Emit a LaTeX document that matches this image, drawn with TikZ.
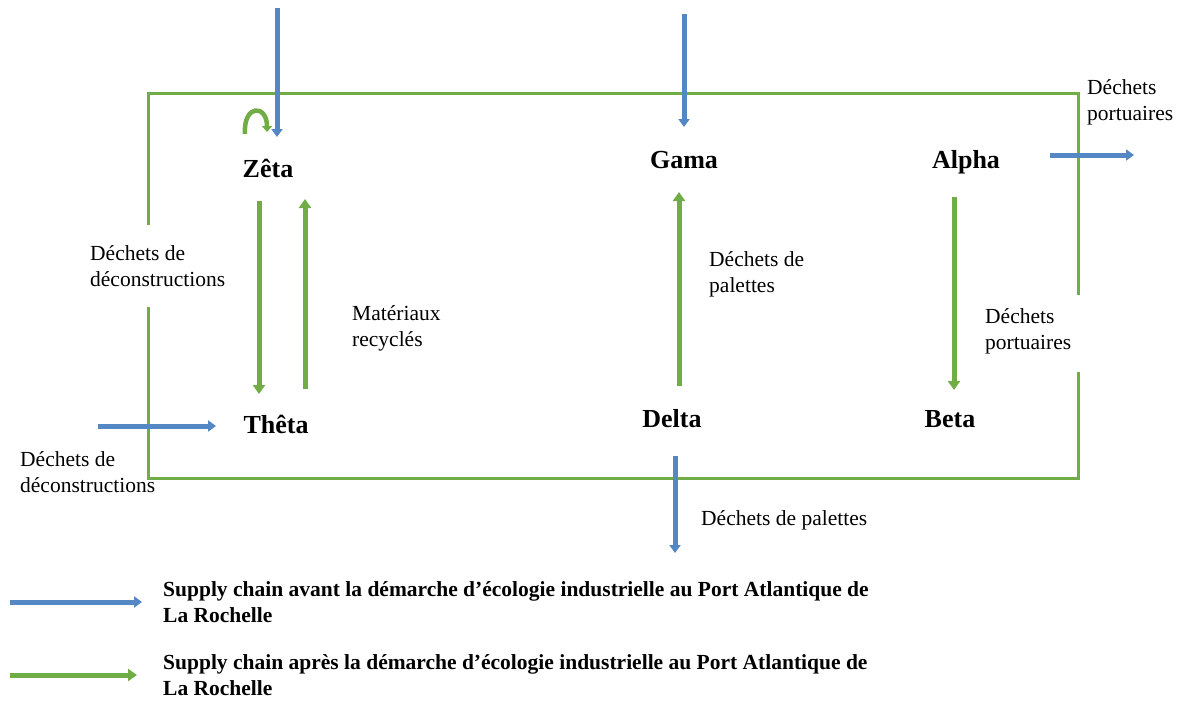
\documentclass[tikz,border=0pt]{standalone}
\usepackage{fontspec}
\setmainfont{Liberation Serif}
\usetikzlibrary{arrows.meta}
\definecolor{fblue}{RGB}{84,136,196}
\definecolor{fgreen}{RGB}{112,173,71}
\begin{document}
\begin{tikzpicture}[x=1pt,y=-1pt,
  lbl/.style={align=left,inner sep=0pt,anchor=west,font=\fontsize{21.5}{26}\selectfont},
  ent/.style={inner sep=0pt,font=\fontsize{26}{30}\selectfont\bfseries},
  leg/.style={align=left,inner sep=0pt,anchor=north west,font=\fontsize{21.5}{26}\selectfont\bfseries},
  bluearr/.style={draw=fblue,line width=5pt,-{Triangle[width=11pt,length=8pt]}},
  greenarr/.style={draw=fgreen,line width=5pt,-{Triangle[width=12pt,length=9pt]}},
  boxline/.style={draw=fgreen,line width=3pt}]
\useasboundingbox (0,0) rectangle (1177,704);
% box
\draw[boxline] (148,225) -- (148,93) -- (1078,93) -- (1078,295);
\draw[boxline] (1078,372) -- (1078,478) -- (148,478) -- (148,307);
% entities
\node[ent] (zeta) at (268,168) {Zêta};
\node[ent] (gama) at (684,160) {Gama};
\node[ent] (alpha) at (966,162) {Alpha};
\node[ent] (theta) at (276,424) {Thêta};
\node[ent] (delta) at (672,419) {Delta};
\node[ent] (beta) at (950,419) {Beta};
% labels
\node[lbl] (l1) at (90,266) {Déchets de\\déconstructions};
\node[lbl] (l2) at (352,328) {Matériaux\\recyclés};
\node[lbl] (l3) at (709,274) {Déchets de\\palettes};
\node[lbl] (l4) at (985,331) {Déchets\\portuaires};
\node[lbl] (l5) at (1087,102) {Déchets\\portuaires};
\node[lbl] (l6) at (20,472) {Déchets de\\déconstructions};
\node[lbl] (l7) at (701,520) {Déchets de palettes};
% coordinates
\coordinate (zin) at (277,8);
\coordinate (zinend) at (277,137);
\coordinate (gin) at (684,14);
\coordinate (ginend) at (684,127);
\coordinate (aout) at (1050,155);
\coordinate (aoutend) at (1134,155);
\coordinate (tin) at (98,426);
\coordinate (tinend) at (216,426);
\coordinate (dout) at (675,456);
\coordinate (doutend) at (675,553);
% blue arrows
\draw[bluearr] (zin) -- (zinend);
\draw[bluearr] (gin) -- (ginend);
\draw[bluearr] (aout) -- (aoutend);
\draw[bluearr] (tin) -- (tinend);
\draw[bluearr] (dout) -- (doutend);
% green arrows
\coordinate (g1a) at (259,201);
\coordinate (g1b) at (259,394);
\coordinate (g2a) at (305,389);
\coordinate (g2b) at (305,199);
\coordinate (g3a) at (679,386);
\coordinate (g3b) at (679,192);
\coordinate (g4a) at (954,197);
\coordinate (g4b) at (954,390);
\draw[greenarr] (g1a) -- (g1b);
\draw[greenarr] (g2a) -- (g2b);
\draw[greenarr] (g3a) -- (g3b);
\draw[greenarr] (g4a) -- (g4b);
% small loop on Zeta
\coordinate (la) at (245,134);
\coordinate (lb) at (267,132);
\draw[draw=fgreen,line width=4.5pt,-{Triangle[width=10pt,length=6pt]}] (la) .. controls (243,104) and (267,104) .. (lb);
% legend
\coordinate (b1) at (10,602);
\coordinate (b2) at (142,602);
\coordinate (c1) at (10,675);
\coordinate (c2) at (137,675);
\draw[bluearr] (b1) -- (b2);
\draw[greenarr] (c1) -- (c2);
\node[leg] (t1) at (163,581) {Supply chain avant la démarche d’écologie industrielle au Port Atlantique de\\La Rochelle};
\node[leg] (t2) at (163,654) {Supply chain après la démarche d’écologie industrielle au Port Atlantique de\\La Rochelle};
\end{tikzpicture}
\end{document}
